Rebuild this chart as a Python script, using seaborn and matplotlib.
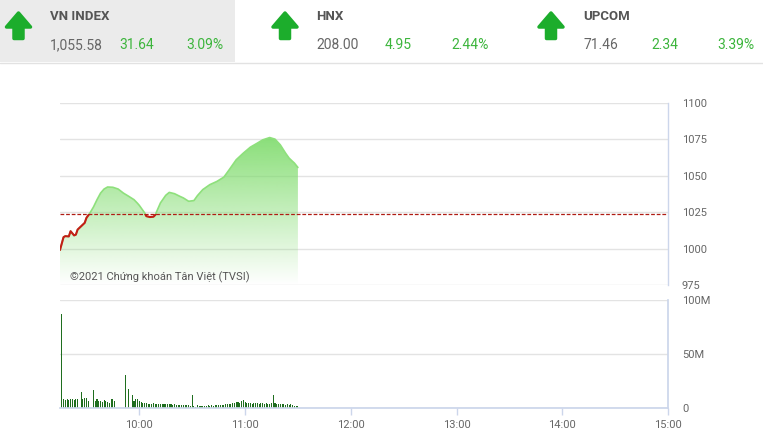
import numpy as np
import pandas as pd
import matplotlib
matplotlib.use("Agg")
import matplotlib.pyplot as plt
from matplotlib.patches import Polygon, Rectangle
from matplotlib.colors import to_rgb
import seaborn as sns

# header boxes
idx_names = ["VN INDEX", "HNX", "UPCOM"]
idx_values = ["1,055.58", "208.00", "71.46"]
idx_changes = ["31.64", "4.95", "2.34"]
idx_pct = ["3.09%", "2.44%", "3.39%"]

ref_price = 1023.94

# VN-Index intraday
price_times = ["09:15", "09:17", "09:18", "09:20", "09:21", "09:23", "09:24", "09:25",
               "09:27", "09:29", "09:30", "09:32", "09:34", "09:36", "09:38", "09:40",
               "09:42", "09:45", "09:48", "09:51", "09:54", "09:57", "09:59", "10:00",
               "10:03", "10:04", "10:06", "10:08", "10:09", "10:12", "10:15", "10:17",
               "10:20", "10:23", "10:25", "10:28", "10:31", "10:33", "10:36", "10:40",
               "10:44", "10:48", "10:51", "10:55", "10:59", "11:03", "11:07", "11:10",
               "11:14", "11:17", "11:20", "11:23", "11:25", "11:27", "11:28", "11:30"]
price_values = [999.0, 1007.8, 1008.5, 1008.3, 1011.9, 1009.0, 1009.5, 1013.0,
                1015.3, 1017.6, 1021.0, 1024.4, 1028.5, 1033.5, 1038.0, 1040.8,
                1042.2, 1042.0, 1040.8, 1038.0, 1035.8, 1033.5, 1031.0, 1029.6,
                1024.5, 1022.2, 1021.6, 1021.8, 1023.0, 1031.3, 1036.5, 1038.5,
                1037.6, 1035.8, 1034.7, 1032.4, 1032.9, 1036.3, 1040.4, 1043.8,
                1046.0, 1049.0, 1054.0, 1060.9, 1065.4, 1069.5, 1072.3, 1074.5,
                1076.1, 1075.0, 1071.1, 1065.4, 1062.0, 1059.7, 1058.6, 1055.58]

# volume per minute in millions, first bar at 09:16
vol_start = "09:16"
volumes = [87, 8, 7, 7.5, 7, 7.5, 7.5, 7, 7.5, 7.5,
           0, 14, 7.5, 8.5, 8.5, 6, 0, 0, 16, 6.5,
           7.5, 6.5, 6.5, 5.5, 7, 6, 5, 4.5, 7.5, 8,
           6, 0, 0, 0, 0, 0, 30.5, 0, 17.5, 0,
           11.5, 6.5, 8, 7.5, 6.5, 5, 4.5, 4.3, 4, 3.5,
           3.5, 3.5, 4, 3.7, 3.5, 3.2, 3.5, 3, 3.2, 3,
           3.2, 2.8, 3, 2.6, 2.8, 2.5, 2.4, 2.2, 2.3, 2,
           2.2, 2, 2, 1.8, 11.5, 1.5, 0.8, 2, 1.8, 1.6,
           1.5, 1.8, 1.7, 2, 1.8, 2, 1.8, 2.2, 2, 2.3,
           2.2, 2.6, 2.4, 2.8, 3.2, 3.6, 3.3, 4, 4.4, 4.8,
           5.2, 4.6, 5.8, 6.6, 5.2, 4.4, 4, 4.2, 3.6, 4.3,
           3.8, 4, 3.4, 4.2, 3.8, 3.5, 4.4, 3.7, 3.6, 3.8,
           12, 4, 3.5, 3.2, 3, 2.8, 3, 2.7, 2.9, 2.6,
           3.5, 2.4, 1.8, 1.5, 1.2]

hour_labels = ["10:00", "11:00", "12:00", "13:00", "14:00", "15:00"]


def to_min(t):
    h, m = map(int, t.split(":"))
    return (h - 9) * 60 + m - 15


df_p = pd.DataFrame({"t": [to_min(t) for t in price_times], "price": price_values})
df_v = pd.DataFrame({"t": to_min(vol_start) + np.arange(len(volumes)), "vol": volumes})

sns.set_theme(style="white")
plt.rcParams['font.family'] = ['Roboto', 'DejaVu Sans']

W, H = 763, 442
fig = plt.figure(figsize=(W / 100, H / 100), dpi=100)


def box(l, t, r, b):
    return [l / W, 1 - b / H, (r - l) / W, (b - t) / H]


# ---- header ----
hx = fig.add_axes([0, 0, 1, 1], zorder=0)
hx.set_xlim(0, W)
hx.set_ylim(H, 0)
hx.axis("off")
hx.add_patch(Rectangle((0, 0), 235, 62, color="#ebebeb", lw=0))
hx.plot([0, W], [62.5, 62.5], color="#e2e2e2", lw=1)

green_txt = "#3cb53c"
arrow_x = [18.5, 285, 551]
text_x = [(50, 119, 186), (316, 385, 451), (583, 651, 717)]
for i in range(3):
    cx = arrow_x[i]
    pts = [(cx, 13), (cx + 12, 27), (cx + 4.5, 27), (cx + 4.5, 38.5),
           (cx - 4.5, 38.5), (cx - 4.5, 27), (cx - 12, 27)]
    hx.add_patch(Polygon(pts, closed=True, facecolor="#1cad2c", edgecolor="#1cad2c",
                         lw=2.5, joinstyle="round"))
    x0, x1, x2 = text_x[i]
    hx.text(x0, 17, idx_names[i], fontsize=9.5, fontweight="bold", color="#555555", va="center")
    hx.text(x0, 45, idx_values[i], fontsize=10, color="#666666", va="center")
    hx.text(x1, 45, idx_changes[i], fontsize=10, color=green_txt, va="center")
    hx.text(x2, 45, idx_pct[i], fontsize=10, color=green_txt, va="center")

# ---- price chart ----
ax = fig.add_axes(box(60, 102.7, 668, 285), zorder=2)
ax.patch.set_alpha(0)
xmax = to_min("15:00")

fill = ax.fill_between(df_p["t"], df_p["price"], 975, color="none", lw=0)
n = 256
vals = np.linspace(975, 1100, n)
alpha = np.clip((vals - 975) / (1076 - 975), 0, 1) * 0.9
rgba = np.zeros((n, 1, 4))
rgba[..., :3] = to_rgb("#7ddb6a")
rgba[:, 0, 3] = alpha
im = ax.imshow(rgba, extent=[0, xmax, 975, 1100], origin="lower", aspect="auto", zorder=1)
im.set_clip_path(fill.get_paths()[0], transform=ax.transData)

sns.lineplot(data=df_p, x="t", y="price", ax=ax, color="#8ee07c", lw=1.2, zorder=3)
sns.lineplot(data=df_p, x="t", y="price", ax=ax, color="#c41e16", lw=1.5, zorder=4)
red_line = ax.lines[-1]
red_line.set_clip_path(Rectangle((0, 975), xmax, ref_price - 975, transform=ax.transData))

ax.axhline(ref_price, color="#b01c14", lw=0.9, ls=(0, (3, 1.5)), zorder=5)

ax.set_xlim(0, xmax)
ax.set_ylim(975, 1100)
ax.set_yticks([975, 1000, 1025, 1050, 1075, 1100])
ax.yaxis.tick_right()
ax.tick_params(axis="y", length=0, pad=10, labelsize=8, labelcolor="#666666")
ax.set_xticks([])
ax.set_xlabel("")
ax.set_ylabel("")
ax.grid(True, axis="y", color="#e3e3e3", lw=1)
for s in ["top", "left", "bottom"]:
    ax.spines[s].set_visible(False)
ax.spines["right"].set_color("#ccd6eb")
ax.spines["right"].set_linewidth(1)

fig.text(70 / W, 1 - 277 / H, "©2021 Chứng khoán Tân Việt (TVSI)", fontsize=8,
         color="#555555", va="center", zorder=10)

# ---- volume chart ----
ax2 = fig.add_axes(box(60, 300, 668, 407.5), zorder=2)
ax2.patch.set_alpha(0)
sns.barplot(data=df_v, x="t", y="vol", native_scale=True, width=0.6, color="#1f6e1f",
            saturation=1, linewidth=0, ax=ax2)
ax2.set_xlim(0, xmax)
ax2.set_ylim(0, 100)
ax2.set_yticks([0, 50, 100])
ax2.set_yticklabels(["0", "50M", "100M"])
ax2.yaxis.tick_right()
ax2.tick_params(axis="y", length=0, pad=10, labelsize=8, labelcolor="#666666")
ax2.set_xticks([to_min(t) for t in hour_labels])
ax2.set_xticklabels(hour_labels)
ax2.tick_params(axis="x", length=5, width=1, color="#ccd6eb", direction="out", pad=4,
                labelsize=8, labelcolor="#666666", bottom=True)
ax2.set_xlabel("")
ax2.set_ylabel("")
ax2.grid(True, axis="y", color="#e3e3e3", lw=1)
ax2.spines["top"].set_visible(False)
ax2.spines["left"].set_visible(False)
ax2.spines["right"].set_color("#ccd6eb")
ax2.spines["bottom"].set_color("#ccd6eb")

fig.savefig("out.png", dpi=100)
